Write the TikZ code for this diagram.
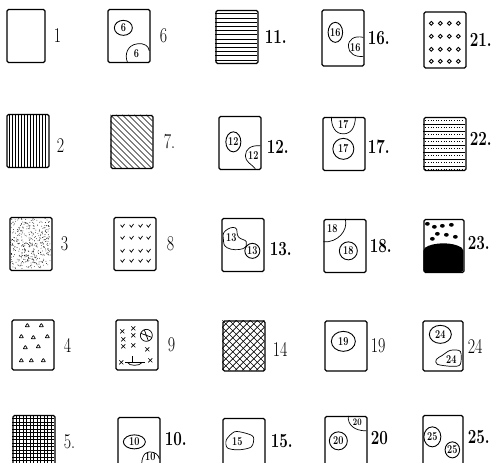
\documentclass[tikz,border=0pt]{standalone}
\usepackage{fontspec}
\newfontfamily\numfont[FakeStretch=0.76]{Latin Modern Roman}
\usetikzlibrary{positioning,shapes.geometric}

\begin{document}
\begin{tikzpicture}[x=1pt, y=-1pt,
  card/.style={draw, line width=1.3pt, rounded corners=1.5pt, minimum width=42pt, minimum height=53pt, inner sep=0pt},
  lab/.style={font=\numfont\fontsize{21}{21}\selectfont, inner sep=0pt},
  blab/.style={font=\numfont\fontsize{20}{20}\selectfont\bfseries, inner sep=0pt},
  tag/.style={font=\numfont\fontsize{12}{12}\selectfont\bfseries, inner sep=0pt},
  ring/.style={tag, draw, ellipse, line width=0.9pt},
  ink/.style={line width=0.7pt}]
  \useasboundingbox (0,0) rectangle (498,463);
  \clip (0,0) rectangle (498,463);

  % the cards, column by column
  \node[card, minimum width=38pt] (b1) at (26,36) {};
  \node[card] (b2) at (28,141) {};
  \node[card] (b3) at (31,244) {};
  \node[card, minimum height=50pt] (b4) at (33,345) {};
  \node[card] (b5) at (34,442) {};
  \node[card] (b6) at (129,36) {};
  \node[card] (b7) at (132,142) {};
  \node[card] (b8) at (135,244) {};
  \node[card, minimum height=50pt] (b9) at (137,345) {};
  \node[card] (b10) at (139,444) {};
  \node[card] (b11) at (237,37) {};
  \node[card] (b12) at (240,143) {};
  \node[card] (b13) at (243,245) {};
  \node[card, minimum height=50pt] (b14) at (244,346) {};
  \node[card] (b15) at (244,445) {};
  \node[card, minimum height=56pt] (b16) at (343,38) {};
  \node[card] (b17) at (344,144) {};
  \node[card] (b18) at (345,246) {};
  \node[card, minimum height=50pt] (b19) at (346,346) {};
  \node[card] (b20) at (346,443) {};
  \node[card, minimum height=56pt] (b21) at (445,40) {};
  \node[card] (b22) at (445,144) {};
  \node[card, minimum width=40pt] (b23) at (444,246) {};
  \node[card, minimum width=40pt, minimum height=50pt] (b24) at (443,346) {};
  \node[card, minimum width=40pt] (b25) at (443,442) {};

  % numbers beside the cards
  \node[lab, right=8pt of b1] (n1) {1};
  \node[lab, right=7pt of b2, yshift=-5pt] (n2) {2};
  \node[lab, right=8pt of b3] (n3) {3};
  \node[lab, right=9pt of b4] (n4) {4};
  \node[lab, right=8pt of b5] (n5) {5.};
  \node[lab, right=9pt of b6] (n6) {6};
  \node[lab, right=10pt of b7] (n7) {7.};
  \node[lab, right=10pt of b8] (n8) {8};
  \node[lab, right=9pt of b9] (n9) {9};
  \node[blab, right=4pt of b10, yshift=5pt] (n10) {10.};
  \node[blab, right=6pt of b11] (n11) {11.};
  \node[blab, right=5pt of b12, yshift=-4pt] (n12) {12.};
  \node[blab, right=5pt of b13, yshift=-4pt] (n13) {13.};
  \node[lab, right=7pt of b14, yshift=-3pt] (n14) {14};
  \node[blab, right=5pt of b15, yshift=4pt] (n15) {15.};
  \node[blab, right=3pt of b16] (n16) {16.};
  \node[blab, right=2pt of b17, yshift=-3pt] (n17) {17.};
  \node[blab, right=3pt of b18] (n18) {18.};
  \node[lab, right=3pt of b19] (n19) {19};
  \node[blab, right=3pt of b20, yshift=5pt] (n20) {20};
  \node[blab, right=3pt of b21] (n21) {21.};
  \node[blab, right=3pt of b22, yshift=5pt] (n22) {22.};
  \node[blab, right=3pt of b23, yshift=3pt] (n23) {23.};
  \node[lab, right=4pt of b24] (n24) {24};
  \node[blab, right=4pt of b25, yshift=5pt] (n25) {25.};

  % 2: vertical lines
  \begin{scope}[shift={(b2.north west)}]
    \foreach \x in {3,6,...,39} \draw[ink] (\x,0) -- (\x,53);
  \end{scope}
  % 3: stipple
  \begin{scope}[shift={(b3.north west)}]
    \pgfmathsetseed{3}
    \foreach \i in {1,...,420} \fill ({1+rnd*40},{1+rnd*51}) circle (0.4pt);
  \end{scope}
  % 4: little triangles
  \begin{scope}[shift={(b4.north west)}]
    \foreach \x/\y in {16/6,30/6,10/17,22/18,36/17,14/28,27/27,10/41,20/41,32/41}
      \draw[ink, rounded corners=0.4pt] (\x,\y) ++(-2.1,1.4) -- ++(4.2,0) -- ++(-2.1,-3.4) -- cycle;
  \end{scope}
  % 5: grid
  \begin{scope}[shift={(b5.north west)}]
    \foreach \x in {3.5,7,...,40} \draw[ink] (\x,0) -- (\x,53);
    \foreach \y in {3.5,7,...,52} \draw[ink] (0,\y) -- (42,\y);
  \end{scope}
  % 6
  \begin{scope}[shift={(b6.north west)}]
    \node[ring, minimum width=18pt, minimum height=15pt] (t6a) at (16,19) {6};
    \draw[ink] (20,53) .. controls (17,46) and (20,36) .. (30,35) .. controls (37,34) and (41,37) .. (42,42);
    \node[tag] (t6b) at (29,45) {6};
  \end{scope}
  % 7: slanted lines
  \begin{scope}[shift={(b7.north west)}]
    \clip (0,0) rectangle (42,53);
    \foreach \k in {-54,-48,...,42} \draw[ink] (\k,0) -- ++(54,54);
  \end{scope}
  % 8: ticks
  \begin{scope}[shift={(b8.north west)}]
    \foreach \x in {9,18,27,35} \foreach \y in {9,21,34,44}
      \draw[ink] (\x,\y) ++(-1.8,-1.1) -- ++(1.8,2.4) -- ++(2.2,-3.2);
  \end{scope}
  % 9: crosses, wheel and boat
  \begin{scope}[shift={(b9.north west)}]
    \foreach \x/\y in {7/12,18/9,8/20,18/16,8/27,18/26,32/30,6/43,35/41}
      \draw[ink] (\x,\y) ++(-2,-2) -- ++(4,4) ++(0,-4) -- ++(-4,4);
    \draw[ink] (31,16) circle (6pt);
    \draw[ink] (25.5,14) -- (36.5,18) (29,10.5) -- (33,21.5);
    \draw[ink] (10,43) -- (30,43) (17,37) -- (17,43);
    \draw[ink] (12,43) .. controls (14,47) and (24,47) .. (27,43);
  \end{scope}
  % 10
  \begin{scope}[shift={(b10.north west)}]
    \node[ring, minimum width=22pt, minimum height=14pt] (t10a) at (17,25) {10};
    \draw[ink] (25,53) .. controls (23,44) and (26,35) .. (32,35) .. controls (38,35) and (41,38) .. (42,42);
    \node[tag] (t10b) at (33,40) {10};
  \end{scope}
  % 11: horizontal lines
  \begin{scope}[shift={(b11.north west)}]
    \foreach \y in {4,8.2,...,51} \draw[line width=0.9pt] (0,\y) -- (42,\y);
  \end{scope}
  % 12
  \begin{scope}[shift={(b12.north west)}]
    \node[ring, minimum width=15pt, minimum height=20pt] (t12a) at (15,26) {12};
    \draw[ink] (42,30) .. controls (33,29) and (27,33) .. (27,40) .. controls (27,46) and (33,48) .. (37,53);
    \node[tag] (t12b) at (35,40) {12};
  \end{scope}
  % 13
  \begin{scope}[shift={(b13.north west)}]
    \draw[ink] plot[smooth cycle, tension=0.8] coordinates {(4,13) (14,10) (17,19) (25,24) (21,31) (6,30) (2,21)};
    \node[tag] (t13a) at (10,20) {13};
    \node[ring, circle, minimum size=15pt] (t13b) at (31,33) {13};
  \end{scope}
  % 14: cross hatching
  \begin{scope}[shift={(b14.north west)}]
    \clip (0,0) rectangle (42,50);
    \foreach \k in {-49,-42,...,42} \draw[ink] (\k,0) -- ++(50,50);
    \foreach \k in {0,7,...,92} \draw[ink] (\k,0) -- ++(-50,50);
  \end{scope}
  % 15
  \begin{scope}[shift={(b15.north west)}]
    \draw[ink] plot[smooth cycle] coordinates {(4,22) (12,14) (22,15) (31,19) (29,29) (16,32) (5,30)};
    \node[tag] (t15a) at (15,24) {15};
  \end{scope}
  % 16
  \begin{scope}[shift={(b16.north west)}]
    \node[ring, minimum width=14pt, minimum height=20pt] (t16a) at (14,23) {16};
    \draw[ink] (42,28) .. controls (33,26) and (27,30) .. (27,37) .. controls (27,44) and (34,48) .. (42,47);
    \node[tag] (t16b) at (34,38) {16};
  \end{scope}
  % 17
  \begin{scope}[shift={(b17.north west)}]
    \draw[ink] (9,0) .. controls (9,10) and (13,17) .. (21,17) .. controls (29,17) and (33,10) .. (33,0);
    \node[tag] (t17a) at (21,8) {17};
    \node[ring, circle, minimum size=21pt] (t17b) at (21,32) {17};
  \end{scope}
  % 18
  \begin{scope}[shift={(b18.north west)}]
    \draw[ink] (22,0) .. controls (25,12) and (14,24) .. (0,23);
    \node[tag] (t18a) at (9,10) {18};
    \node[ring, circle, minimum size=18pt] (t18b) at (25,32) {18};
  \end{scope}
  % 19
  \begin{scope}[shift={(b19.north west)}]
    \node[ring, minimum width=24pt, minimum height=20pt] (t19a) at (19,21) {19};
  \end{scope}
  % 20
  \begin{scope}[shift={(b20.north west)}]
    \draw[ink] (24,0) .. controls (23,9) and (30,15) .. (42,15);
    \node[tag, font=\numfont\fontsize{10}{10}\selectfont\bfseries] (t20a) at (33,6) {20};
    \node[ring, circle, minimum size=18pt] (t20b) at (14,25) {20};
  \end{scope}
  % 21: rings
  \begin{scope}[shift={(b21.north west)}]
    \foreach \x in {8,17,26,35} \foreach \y in {12,25,38,50}
      \draw[line width=0.9pt] (\x,\y) circle (1.9pt);
  \end{scope}
  % 22: lines and dots
  \begin{scope}[shift={(b22.north west)}]
    \foreach \y in {7,14,...,49} \draw[ink] (0,\y) -- (42,\y);
    \foreach \y in {3.5,10.5,...,53} \draw[line width=1pt, dash pattern=on 1pt off 1.6pt] (2,\y) -- (40,\y);
  \end{scope}
  % 23: pebbles over black
  \begin{scope}[shift={(b23.north west)}]
    \foreach \x/\y in {4/5,11/8,19/7,28/6,14/15,23/16,32/18,9/20}
      \fill (\x,\y) ellipse (2.4pt and 1.9pt);
    \fill[rounded corners=2pt] (0,30) .. controls (10,23) and (30,23) .. (40,30) -- (40,53) -- (0,53) -- cycle;
  \end{scope}
  % 24
  \begin{scope}[shift={(b24.north west)}]
    \node[ring, minimum width=22pt, minimum height=18pt] (t24a) at (18,14) {24};
    \draw[ink] plot[smooth cycle] coordinates {(20,35) (28,30) (38,31) (38,44) (30,46) (15,44) (14,39)};
    \node[tag] (t24b) at (29,39) {24};
  \end{scope}
  % 25
  \begin{scope}[shift={(b25.north west)}]
    \node[ring, minimum width=17pt, minimum height=20pt] (t25a) at (10,22) {25};
    \node[ring, minimum width=14pt, minimum height=16pt] (t25b) at (30,35) {25};
  \end{scope}
\end{tikzpicture}
\end{document}
